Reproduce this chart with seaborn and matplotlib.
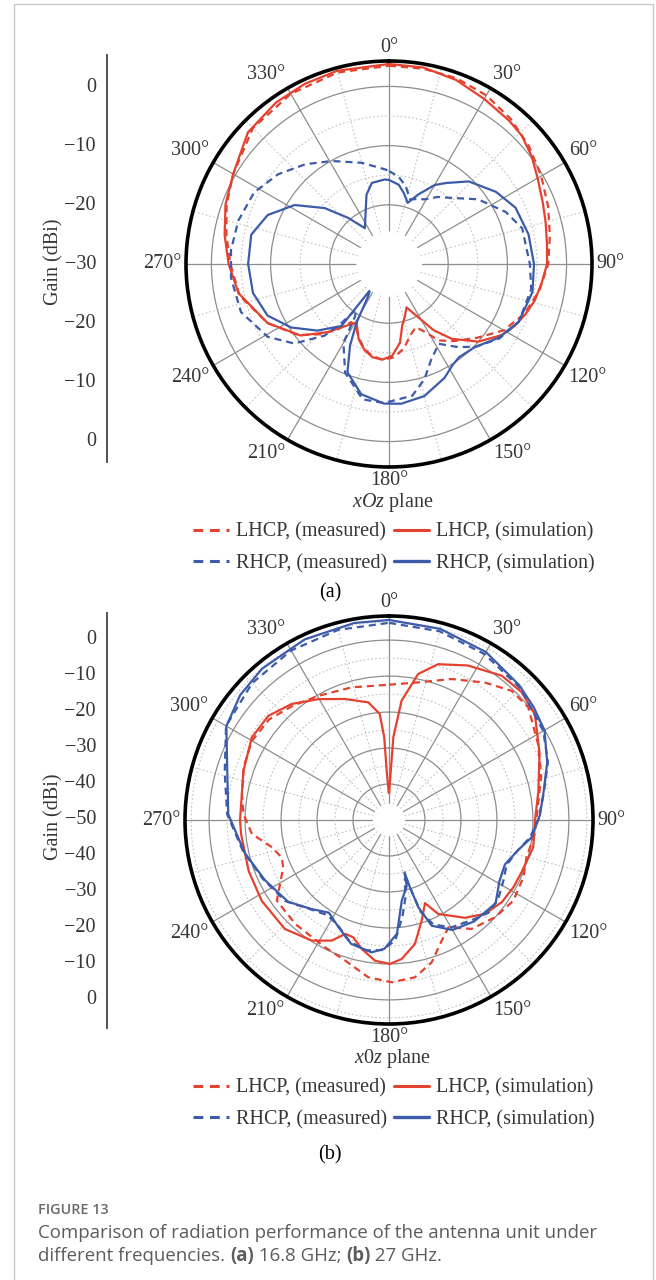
import numpy as np
import matplotlib
matplotlib.use("Agg")
import matplotlib.pyplot as plt
import seaborn as sns
from matplotlib.lines import Line2D
from matplotlib.patches import Rectangle

# ---- (a) 16.8 GHz : angle (deg, clockwise from top) and gain (dBi)
a_lhcp_sim_ang = [0, 10, 20, 30, 40, 46, 53, 60, 68, 75, 83, 90, 97, 104, 110, 116, 122, 131, 140, 146,
                  151, 155, 158, 163, 168, 172, 178, 184, 190, 196, 202, 209, 217, 222, 231, 244, 259, 270,
                  280, 290, 300, 313, 325, 335, 345, 360]
a_lhcp_sim_db = [3.8, 3.7, 3.1, 2.2, 1.6, 1.2, 0.2, -1.0, -2.0, -2.6, -3.1, -3.3, -4.0, -4.6, -5.4, -6.3,
                 -7.4, -10.0, -13.5, -16.5, -19.6, -21.2, -22.1, -20.8, -19.3, -16.6, -14.5, -13.8, -14.0,
                 -14.9, -16.3, -18.7, -16.6, -14.5, -10.8, -7.2, -4.1, -2.9, -1.8, -0.6, 0.4, 2.6, 3.3,
                 3.6, 3.8, 3.8]
a_lhcp_meas_ang = [0, 10, 20, 30, 40, 50, 60, 70, 80, 90, 100, 110, 120, 130, 140, 147, 152, 157, 163, 170,
                   177, 184, 190, 196, 202, 208, 213, 218, 224, 232, 244, 258, 270, 280, 290, 300, 315, 330,
                   345, 360]
a_lhcp_meas_db = [3.5, 3.5, 3.4, 2.9, 2.0, 0.9, -0.3, -1.4, -2.4, -3.1, -4.2, -5.6, -7.6, -10.6, -13.0,
                  -14.6, -17.0, -18.4, -17.5, -15.5, -14.2, -13.8, -14.2, -15.0, -16.5, -18.0, -18.3, -16.0,
                  -13.5, -10.5, -7.2, -4.2, -3.2, -2.1, -0.8, 0.4, 2.5, 3.2, 3.5, 3.5]
a_rhcp_sim_ang = [0, 7, 12, 17, 23, 30, 35, 44, 56, 66, 78, 90, 101, 114, 124, 134, 143, 148, 154, 165,
                  175, 182, 192, 201, 205.5, 209, 213, 216, 217.5, 227, 237, 247, 258, 270, 282, 292, 302,
                  311, 318.5, 326, 336, 342, 348, 357, 360]
a_rhcp_sim_db = [-15.8, -16.5, -17.8, -19.2, -17.2, -14.6, -13.3, -10.6, -8.2, -6.6, -5.9, -5.5, -5.3,
                 -6.0, -7.7, -9.8, -10.3, -9.8, -8.6, -6.9, -6.3, -6.4, -7.5, -10.4, -14.7, -18.7, -23.6,
                 -25.0, -16.8, -13.5, -10.3, -7.7, -6.5, -6.2, -6.2, -7.9, -11.2, -15.6, -19.6, -22.7,
                 -20.3, -17.7, -16.0, -15.7, -15.8]
a_rhcp_meas_ang = [0, 6, 12, 18, 24, 29, 36, 43.5, 54, 66, 75, 90, 100, 114, 124, 134, 141, 148, 156, 163,
                   170, 182, 191, 202, 210, 213, 216, 219, 222, 230, 239, 252, 265, 275, 286, 298, 309, 320,
                   331, 345, 357.6, 360]
a_rhcp_meas_db = [-14.3, -15.1, -16.5, -18.5, -18.0, -17.5, -16.0, -14.6, -11.4, -8.4, -6.7, -6.2, -5.6,
                  -6.0, -7.5, -9.8, -12.0, -14.1, -12.4, -9.6, -7.4, -6.5, -6.7, -10.2, -14.6, -19.5, -20.5,
                  -17.0, -13.7, -9.1, -6.1, -3.7, -3.2, -3.2, -3.5, -4.2, -5.9, -8.0, -10.1, -12.3, -14.0,
                  -14.3]

# ---- (b) 27 GHz
b_rhcp_sim_ang = [0, 15, 30, 44, 52, 60, 70, 80, 88, 97, 103, 111, 119, 128, 140, 150, 158, 161.4, 162.7,
                  163.5, 165, 171, 176, 182, 187.5, 197, 205, 213, 221, 231, 244, 257, 272, 285, 300, 310,
                  320, 335, 350, 360]
b_rhcp_sim_db = [5.6, 5.0, 3.9, 2.1, 1.0, -0.1, -3.2, -6.4, -8.0, -10.1, -13.1, -15.5, -14.9, -12.4,
                 -13.2, -14.7, -18.3, -24.4, -30.4, -34.8, -31.0, -27.3, -18.3, -14.2, -12.9, -14.0, -17.0,
                 -19.3, -17.2, -13.9, -11.7, -8.9, -5.3, -3.5, 2.2, 4.0, 4.9, 5.4, 5.6, 5.6]
b_rhcp_meas_ang = [0, 15, 30, 45, 60, 70, 80, 90, 97, 104, 111, 118, 126, 133, 140, 150, 157, 161, 163,
                   165, 168, 172, 177, 183, 190, 198, 206, 213, 222, 232, 245, 258, 272, 286, 300, 315, 330,
                   345, 360]
b_rhcp_meas_db = [4.8, 4.3, 3.2, 1.7, -0.5, -3.0, -6.3, -8.5, -10.5, -13.5, -15.0, -14.0, -12.5, -12.2,
                  -13.8, -15.5, -18.5, -23.0, -31.0, -33.0, -28.0, -23.0, -16.5, -13.8, -13.2, -14.5, -17.5,
                  -18.5, -16.8, -13.4, -11.3, -8.5, -5.0, -2.5, 2.3, 3.8, 4.4, 4.7, 4.8]
b_lhcp_sim_ang = [0.5, 1.5, 3, 6, 11.3, 17.5, 27, 38, 46, 54, 66, 79, 90, 100.7, 111.5, 118.4, 126, 134.4,
                  142.2, 152.3, 156.6, 162, 168.2, 174.8, 179.6, 185.7, 192, 196.9, 201, 205.4, 212.6,
                  223.7, 237.6, 250, 264.6, 270, 288.7, 301, 310.8, 320, 329.7, 340, 350, 355, 356.7,
                  357.3, 359.5]
b_lhcp_sim_db = [-42.5, -39.1, -27.0, -16.7, -8.6, -4.6, -1.8, 0.9, 1.2, 0.1, -4.2, -7.7, -9.4, -9.2,
                 -10.4, -10.7, -11.2, -12.7, -15.6, -20.5, -24.8, -20.6, -14.8, -11.2, -10.0, -10.7, -13.4,
                 -15.9, -16.1, -12.9, -10.2, -8.1, -8.1, -8.5, -8.7, -8.6, -7.3, -5.5, -5.7, -7.9, -11.1,
                 -14.2, -16.8, -20.4, -27.0, -36.3, -42.5]
b_lhcp_meas_ang = [0, 12, 24, 35, 43.5, 51, 63, 74, 85, 95.5, 105, 113, 123, 132.5, 142.8, 151, 156.4,
                   163.3, 170.6, 179, 187.5, 197.4, 206.7, 222, 234.3, 239.6, 245.9, 250.8, 256.9, 264.2,
                   272.4, 280, 290, 300, 310, 320, 330.4, 344.3, 360]
b_lhcp_meas_db = [-12.4, -10.9, -7.1, -3.4, -0.5, -0.2, -3.5, -6.0, -8.5, -9.3, -10.4, -9.4, -8.8, -10.0,
                  -12.0, -15.9, -13.4, -8.7, -5.7, -4.9, -5.9, -9.1, -10.4, -11.1, -11.6, -14.9, -17.8,
                  -18.4, -16.6, -11.7, -9.5, -8.5, -7.0, -6.0, -6.5, -8.5, -10.3, -11.7, -12.4]

legend_labels = ["LHCP, (measured)", "RHCP, (measured)", "LHCP, (simulation)", "RHCP, (simulation)"]
angle_ticks = list(range(0, 360, 30))
angle_labels = [f"{d}°" for d in angle_ticks]

RED = "#e4412f"
BLUE = "#3c5ba8"
TXT = "#363636"
DASH = (0, (3.2, 2.2))
W, H = 656, 1280

sns.set_theme(style="white")
plt.rcParams["font.family"] = ["Liberation Serif", "DejaVu Serif"]
plt.rcParams["mathtext.fontset"] = "custom"
plt.rcParams["mathtext.it"] = "Liberation Serif:italic"
plt.rcParams["mathtext.rm"] = "Liberation Serif"

fig = plt.figure(figsize=(W / 100, H / 100), dpi=100)
fig.patch.set_facecolor("white")
fig.patches.append(Rectangle((14 / W, -0.01), 639 / W, 1.0 - 4 / H + 0.01, transform=fig.transFigure,
                             fill=False, edgecolor="#c9c9c9", linewidth=1.0))


def polar_panel(cx, cy, rad, rorigin, rmin, rmax, rmajor, rminor, series):
    ax = fig.add_axes([(cx - rad) / W, 1 - (cy + rad) / H, 2 * rad / W, 2 * rad / H], projection="polar")
    ax.set_theta_zero_location("N")
    ax.set_theta_direction(-1)
    for ang, db, color, ls in series:
        sns.lineplot(x=np.deg2rad(ang), y=np.clip(db, rmin, None), ax=ax, sort=False, estimator=None,
                     color=color, linestyle=ls, linewidth=1.6)
    ax.set_rorigin(rorigin)
    ax.set_rlim(rmin, rmax)
    ax.set_xticks(np.deg2rad(angle_ticks))
    ax.set_xticklabels([])
    ax.set_xticks(np.deg2rad(np.arange(15, 360, 30)), minor=True)
    ax.set_yticks(rmajor)
    ax.set_yticks(rminor, minor=True)
    ax.set_yticklabels([])
    ax.set_xlabel("")
    ax.set_ylabel("")
    ax.grid(True, which="major", color="#8d8d8d", linewidth=0.9, linestyle="-")
    ax.grid(True, which="minor", color="#c2c2c2", linewidth=0.8, linestyle=(0, (1.5, 2.0)))
    ax.set_axisbelow(True)
    ax.tick_params(axis="y", which="both", length=0)
    ax.tick_params(axis="x", which="major", direction="in", length=6, width=1.6, color="black")
    ax.tick_params(axis="x", which="minor", length=0)
    ax.spines["polar"].set_linewidth(2.6)
    ax.spines["polar"].set_color("black")
    # the inner spine is switched on again at draw time, so make it invisible instead
    ax.spines["inner"].set_linewidth(0)
    ax.spines["inner"].set_edgecolor("none")
    # angle labels just outside the rim, aligned away from it
    for d, lab in zip(angle_ticks, angle_labels):
        s, c = np.sin(np.deg2rad(d)), np.cos(np.deg2rad(d))
        ha = "left" if s > 0.3 else ("right" if s < -0.3 else "center")
        va = "bottom" if c > 0.3 else ("top" if c < -0.3 else "center")
        ax.annotate(lab, xy=(0.5 + 0.5 * s, 0.5 + 0.5 * c), xycoords="axes fraction",
                    xytext=(3.2 * s, 3.2 * c), textcoords="offset points", ha=ha, va=va,
                    fontsize=14.5, color=TXT, annotation_clip=False)
    return ax


def gain_axis(cy, top, bottom, scale, span):
    # separate linear scale on the left (dB above the centre value)
    ax = fig.add_axes([107 / W, 1 - bottom / H, 0.001, (bottom - top) / H])
    ax.set_ylim(-(bottom - cy) / scale, (cy - top) / scale)
    pos = np.arange(span, -span - 1, -10)
    ax.set_yticks(pos)
    ax.set_yticklabels([f"{abs(p) - span}".replace("-", "\u2212") for p in pos])
    ax.set_xticks([])
    for s in ["top", "right", "bottom"]:
        ax.spines[s].set_visible(False)
    ax.spines["left"].set_color("#444444")
    ax.spines["left"].set_linewidth(1.3)
    ax.tick_params(axis="y", direction="in", length=5, width=1.1, color="#444444",
                   labelsize=14.5, labelcolor=TXT, pad=8)
    fig.text(54 / W, 1 - cy / H, "Gain (dBi)", rotation=90, ha="center", va="center",
             fontsize=14.5, color=TXT)


def legend_block(cy):
    handles = [Line2D([], [], color=RED, linestyle=DASH, linewidth=2.2),
               Line2D([], [], color=BLUE, linestyle=DASH, linewidth=2.2),
               Line2D([], [], color=RED, linewidth=2.2),
               Line2D([], [], color=BLUE, linewidth=2.4)]
    fig.legend(handles, legend_labels, ncol=2, loc="center", bbox_to_anchor=(394 / W, 1 - cy / H),
               frameon=False, fontsize=14.5, handlelength=1.75, handletextpad=0.35, columnspacing=0.35,
               labelspacing=0.6, labelcolor=TXT, borderpad=0)


# panel (a)
polar_panel(389, 264, 203, -30, -24.5, 4.3, [-20, -10, 0], [-15, -5],
            [(a_lhcp_meas_ang, a_lhcp_meas_db, RED, DASH), (a_lhcp_sim_ang, a_lhcp_sim_db, RED, "-"),
             (a_rhcp_meas_ang, a_rhcp_meas_db, BLUE, DASH), (a_rhcp_sim_ang, a_rhcp_sim_db, BLUE, "-")])
gain_axis(262, 55, 462, 5.9, 30)
fig.text(393 / W, 1 - 502 / H, r"$\mathit{xOz}$ plane", ha="center", va="center", fontsize=14.5, color=TXT)
legend_block(548)
fig.text(330 / W, 1 - 593 / H, "(a)", ha="center", va="center", fontsize=14.5, color="black")

# panel (b)
polar_panel(389, 820, 204, -50, -45.5, 6.7, [-40, -30, -20, -10, 0], [-35, -25, -15, -5, 5],
            [(b_lhcp_meas_ang, b_lhcp_meas_db, RED, DASH), (b_lhcp_sim_ang, b_lhcp_sim_db, RED, "-"),
             (b_rhcp_meas_ang, b_rhcp_meas_db, BLUE, DASH), (b_rhcp_sim_ang, b_rhcp_sim_db, BLUE, "-")])
gain_axis(817, 613, 1028, 3.6, 50)
fig.text(393 / W, 1 - 1059 / H, r"$\mathit{x0z}$ plane", ha="center", va="center", fontsize=14.5, color=TXT)
legend_block(1104)
fig.text(330 / W, 1 - 1155 / H, "(b)", ha="center", va="center", fontsize=14.5, color="black")

# caption
cap_font = ["Open Sans", "DejaVu Sans"]
fig.text(38 / W, 1 - 1210 / H, "FIGURE 13", family=cap_font, fontsize=10.4, color="#6a6a6a",
         fontweight="semibold", va="center")
fig.text(38 / W, 1 - 1233 / H, "Comparison of radiation performance of the antenna unit under",
         family=cap_font, fontsize=13.4, color="#5c5c5c", va="center")
renderer = fig.canvas.get_renderer()
x = 38 / W
for part, weight in [("different frequencies. ", "normal"), ("(a)", "bold"), (" 16.8 GHz; ", "normal"),
                     ("(b)", "bold"), (" 27 GHz.", "normal")]:
    t = fig.text(x, 1 - 1256 / H, part, family=cap_font, fontsize=13.4, color="#5c5c5c",
                 fontweight=weight, va="center")
    x += t.get_window_extent(renderer=renderer).width / fig.bbox.width

fig.savefig("out.png", dpi=100)
